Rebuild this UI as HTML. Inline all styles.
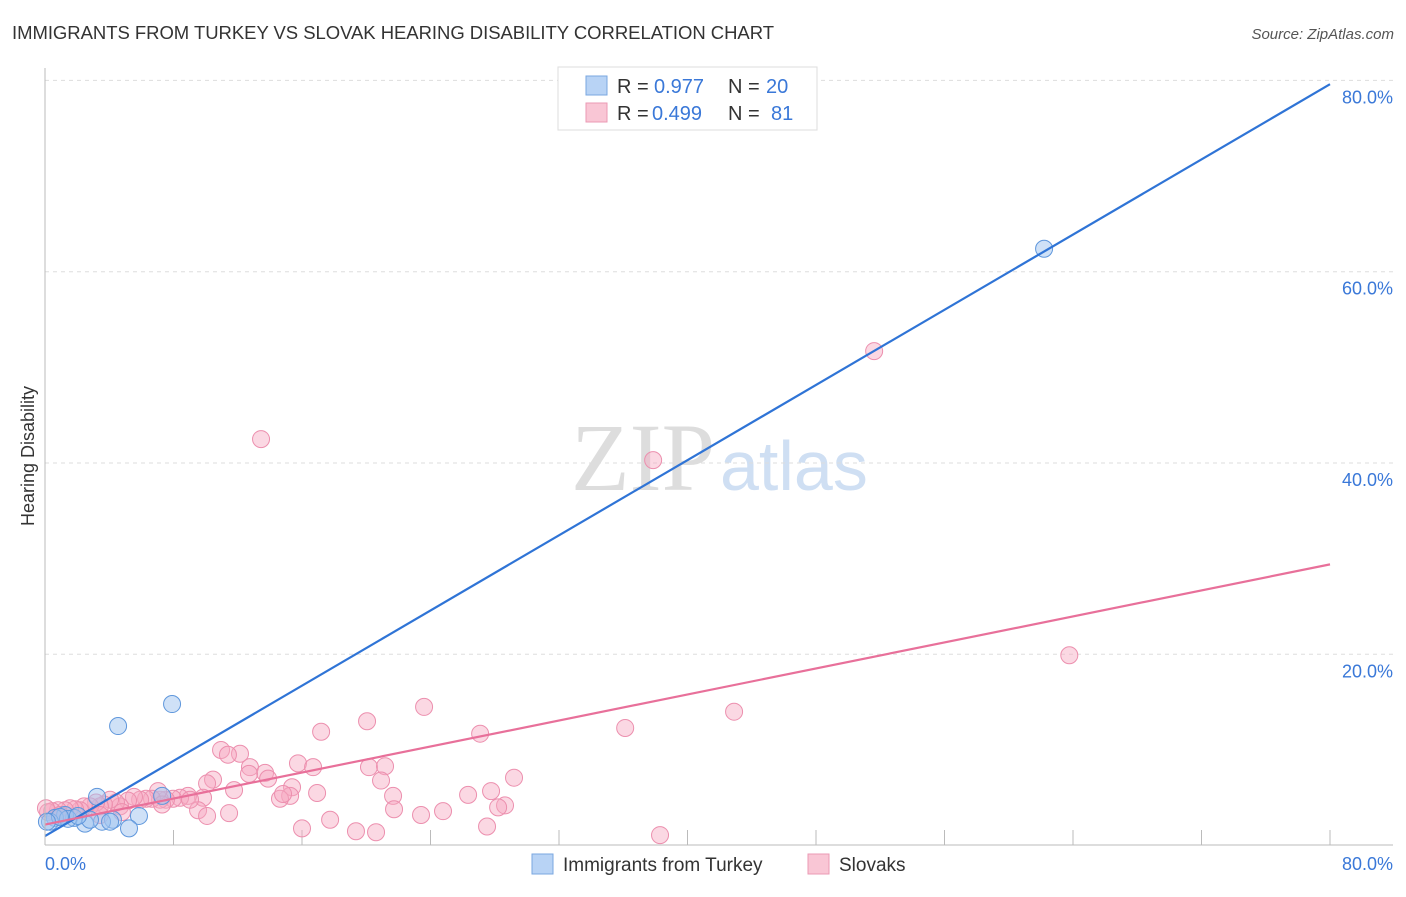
<!DOCTYPE html>
<html><head><meta charset="utf-8"><style>
body{margin:0;background:#fff;font-family:"Liberation Sans",sans-serif;}
</style></head><body>
<svg id="c" width="1406" height="892" xmlns="http://www.w3.org/2000/svg">
<text x="12" y="39" font-size="18.5" fill="#333" textLength="762">IMMIGRANTS FROM TURKEY VS SLOVAK HEARING DISABILITY CORRELATION CHART</text>
<text x="1394" y="39" font-size="15" fill="#555" font-style="italic" text-anchor="end">Source: ZipAtlas.com</text>
<text x="715" y="490" font-size="96" fill="#ddd" text-anchor="end" font-family="Liberation Serif,serif">ZIP</text>
<text x="720" y="490" font-size="70" fill="#cfdff3">atlas</text>
<text transform="translate(34,456) rotate(-90)" font-size="18" fill="#333" text-anchor="middle">Hearing Disability</text>
<g id="grid"></g><g id="pts"></g><g id="lines"></g>
<line x1="45" y1="68" x2="45" y2="845" stroke="#bbb"/>
<line x1="45" y1="845" x2="1393" y2="845" stroke="#bbb"/>
<text x="45" y="870" font-size="18" fill="#3a78d8">0.0%</text>
<text x="1393" y="870" font-size="18" fill="#3a78d8" text-anchor="end">80.0%</text>
<g>
<rect x="558" y="67" width="259" height="63" fill="#fff" stroke="#ddd"/>
<rect x="586" y="76" width="21" height="19" fill="#b8d3f5" stroke="#7aa7e0"/>
<rect x="586" y="103" width="21" height="19" fill="#f9c6d5" stroke="#eb9ab4"/>
<text x="617" y="93" font-size="20" fill="#333">R = <tspan x="654" fill="#3a78d8">0.977</tspan><tspan x="728">N = </tspan><tspan x="766" fill="#3a78d8">20</tspan></text>
<text x="617" y="120" font-size="20" fill="#333">R = <tspan x="652" fill="#3a78d8">0.499</tspan><tspan x="728">N = </tspan><tspan x="771" fill="#3a78d8">81</tspan></text>
</g>
<g>
<rect x="532" y="854" width="21" height="20" fill="#b8d3f5" stroke="#7aa7e0"/>
<text x="563" y="871" font-size="19" fill="#333">Immigrants from Turkey</text>
<rect x="808" y="854" width="21" height="20" fill="#f9c6d5" stroke="#eb9ab4"/>
<text x="839" y="871" font-size="19" fill="#333">Slovaks</text>
</g>
</svg>
<script>
const yTicks=[20,40,60,80];
const xTicks=[8,16,24,32,40,48,56,64,72];
const turkeyX=[4.55,7.91,3.24,7.29,5.85,5.23,4.23,3.55,2.49,2.80,1.81,1.25,0.62,0.31,1.43,4.05,2.05,0.93,0.12,62.2];
const turkeyY=[12.5,14.8,5.1,5.2,3.1,1.8,2.7,2.5,2.3,2.7,2.9,3.2,2.9,2.5,2.8,2.5,3.1,3.0,2.5,62.4];
const slovakX=[13.45,37.86,51.62,63.77,42.90,36.12,23.60,20.05,17.19,27.09,10.96,12.14,11.39,12.76,13.70,15.75,16.69,20.17,21.17,29.20,27.77,26.34,28.64,28.21,20.92,21.67,21.73,24.78,23.41,27.52,38.29,20.61,19.36,16.00,17.75,16.94,15.38,15.26,14.63,13.89,12.70,11.77,10.46,10.09,9.84,9.53,10.09,11.46,8.90,8.41,7.97,7.53,7.16,7.04,6.66,6.29,5.92,5.54,5.17,4.67,4.42,4.05,3.67,3.42,3.18,2.80,2.43,2.18,1.87,1.56,1.25,0.81,0.44,0.19,0.06,0.93,3.42,4.79,7.29,9.03,14.82];
const slovakY=[42.5,40.3,51.7,19.9,14.0,12.3,14.5,13.0,11.9,11.7,10.0,9.6,9.5,8.2,7.6,8.6,8.2,8.2,8.3,7.1,5.7,5.3,4.2,4.0,6.8,5.2,3.8,3.6,3.2,2.0,1.1,1.4,1.5,1.8,2.7,5.5,6.1,5.2,4.9,7.0,7.5,5.8,6.9,6.5,5.0,3.7,3.1,3.4,5.2,5.0,4.9,4.8,4.8,5.7,4.9,4.9,4.8,5.1,4.7,4.1,4.5,4.8,4.3,4.1,4.5,4.1,4.1,3.7,3.8,3.9,3.7,3.7,3.6,3.5,3.9,3.2,3.2,3.5,4.3,4.8,5.4];
const turkeyLine=[1.0,79.6];
const slovakLine=[2.2,29.4];
const NS='http://www.w3.org/2000/svg';
const X=v=>45+v*(1285/80), Y=v=>845.6-v*9.565;
function mk(t,a,p){const e=document.createElementNS(NS,t);for(const k in a)e.setAttribute(k,a[k]);p.appendChild(e);return e;}
const g=document.getElementById('grid');
yTicks.forEach(t=>{
 const l=mk('line',{x1:45,x2:1393,y1:Y(t),y2:Y(t),stroke:'#ddd','stroke-dasharray':'4,4'},g);
 
 
 const tx=mk('text',{x:1393,y:Y(t)+23,'font-size':18,fill:'#3a78d8','text-anchor':'end'},g);
 tx.textContent=t.toFixed(1)+'%';
 
 
});
[0].concat(xTicks,[80]).forEach(t=>{
 const l=mk('line',{x1:X(t),x2:X(t),y1:830,y2:845,stroke:'#bbb'},g);
 
 
});
const p=document.getElementById('pts');
slovakX.forEach((x,i)=>{
 const c=mk('circle',{cx:X(x),cy:Y(slovakY[i]),r:8.5,fill:'rgba(246,168,192,0.45)',stroke:'#ec8fae','stroke-width':1},p);
 
 
});
turkeyX.forEach((x,i)=>{
 const c=mk('circle',{cx:X(x),cy:Y(turkeyY[i]),r:8.5,fill:'rgba(160,196,240,0.5)',stroke:'#5f97dc','stroke-width':1},p);
 
 
});
const L=document.getElementById('lines');
const l1=mk('line',{x1:X(0),y1:Y(turkeyLine[0]),x2:X(80),y2:Y(turkeyLine[1]),stroke:'#2f74d6','stroke-width':2.2},L);


const l2=mk('line',{x1:X(0),y1:Y(slovakLine[0]),x2:X(80),y2:Y(slovakLine[1]),stroke:'#e8709a','stroke-width':2.2},L);


</script>
</body></html>
